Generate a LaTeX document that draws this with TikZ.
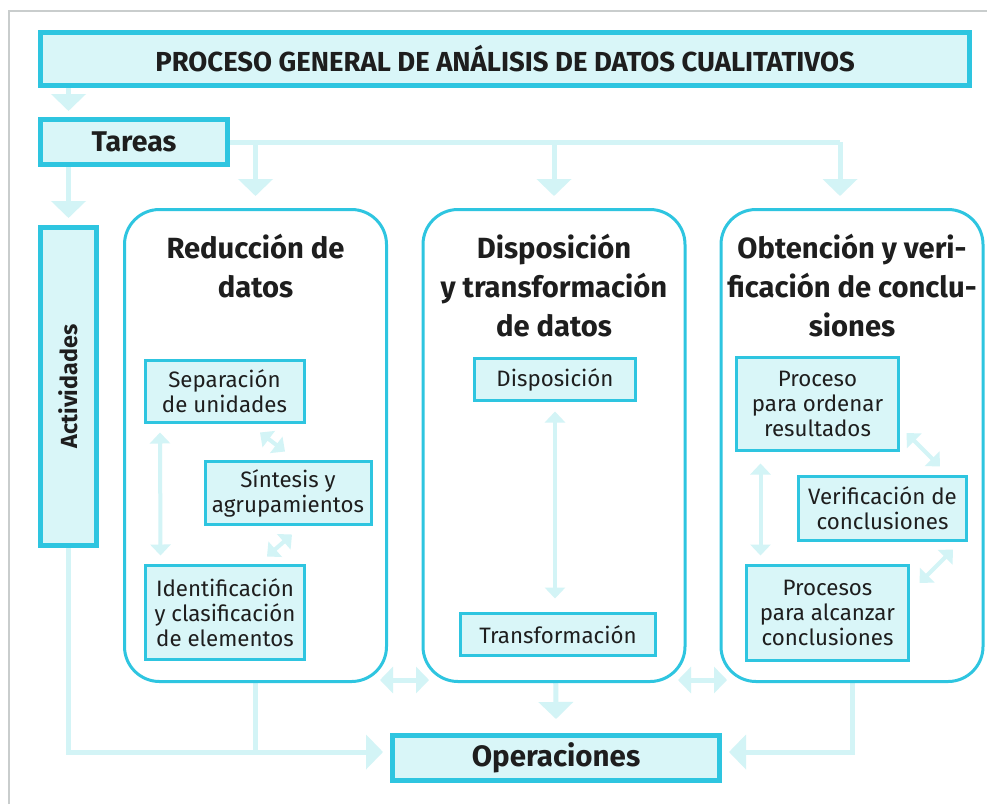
\documentclass[tikz,border=0pt]{standalone}
\usepackage{fontspec}
\setmainfont{Fira Sans}
\usetikzlibrary{arrows.meta}
\definecolor{cyanB}{HTML}{2EC5E0}
\definecolor{cyanL}{HTML}{D9F6F8}
\definecolor{cyanC}{HTML}{D3F4F6}
\definecolor{frameG}{HTML}{C9CDCD}
\definecolor{txt}{HTML}{1E1E1E}
\tikzset{
  box/.style={draw=cyanB, fill=cyanL, line width=5pt, inner sep=0pt, align=center, text=txt, font=\bfseries\fontsize{28.5}{30}\selectfont},
  bigbox/.style={draw=cyanB, fill=white, line width=3pt, rounded corners=35pt, inner sep=0pt, minimum width=262pt, minimum height=472pt},
  head/.style={inner sep=0pt, align=center, anchor=north, text=txt, font=\bfseries\fontsize{29.2}{39}\selectfont},
  sub/.style={draw=cyanB, fill=cyanL, line width=3pt, inner sep=0pt, align=center, text=txt, font=\fontsize{22.3}{25}\selectfont},
  conn/.style={draw=cyanC, line width=5pt, -{Triangle[length=17pt,width=34pt]}},
  plainc/.style={draw=cyanC, line width=5pt},
  dblbig/.style={draw=cyanC, line width=5pt, {Triangle[length=13pt,width=26pt]}-{Triangle[length=13pt,width=26pt]}},
  dbl/.style={draw=cyanC, line width=4pt, {Triangle[length=11pt,width=20pt]}-{Triangle[length=11pt,width=20pt]}},
}
\begin{document}
\begin{tikzpicture}[x=1pt,y=-1pt]
\fill[white] (0,0) rectangle (987,804);
\useasboundingbox (0,0) rectangle (987,804);
\draw[frameG, line width=2.5pt] (9,804) -- (9,11) -- (987,11);

% main nodes (positions)
\node[box, minimum width=929pt, minimum height=53pt, font=\bfseries\fontsize{27.5}{30}\selectfont] (title) at (505,59) {PROCESO GENERAL DE ANÁLISIS DE DATOS CUALITATIVOS};
\node[box, minimum width=187pt, minimum height=45pt] (tareas) at (134,142) {Tareas};
\node[box, minimum width=56pt, minimum height=318pt, font=\bfseries\fontsize{23.3}{27}\selectfont] (act) at (68.5,386.5) {\rotatebox{90}{Actividades}};
\node[box, minimum width=327pt, minimum height=45pt, font=\bfseries\fontsize{29.5}{30}\selectfont] (ops) at (556,758) {Operaciones};

\coordinate (j3) at (840,142);
\coordinate (lb) at (68.5,752);
\coordinate (rb) at (852,752);

% connectors (behind boxes)
\path (255.5,445.5) coordinate (c1) (554,445.5) coordinate (c2) (852,445.5) coordinate (c3);
\draw[conn] (title.south -| act.center) -- ([yshift=6pt]tareas.north -| act.center);
\draw[conn] (tareas.south -| act.center) -- ([yshift=7pt]act.north);
\draw[plainc] (tareas.east) -- (j3);
\draw[conn] (tareas.east -| c1) -- (255.5,196);
\draw[conn] (tareas.east -| c2) -- (554,196);
\draw[conn] (j3) -- (840,196);
\draw[conn, shorten >=7pt] (act.south) -- (lb) -- (lb -| ops.west);
\draw[plainc] (c1) -- (c1 |- lb);
\draw[conn] (c2) -- ([yshift=14pt]ops.north);
\draw[conn, shorten >=7pt] (c3) -- (rb) -- (rb -| ops.east);
\draw[dblbig] (380,680) -- (429,680);
\draw[dblbig] (678,680) -- (727,680);

% big boxes
\node[bigbox] (b1) at (c1) {};
\node[bigbox] (b2) at (c2) {};
\node[bigbox] (b3) at (c3) {};

\node[head] (h1) at (255.5,234) {Reducción de\\datos};
\node[head] (h2) at (554,234) {Disposición\\y transformación\\de datos};
\node[head] (h3) at (852,234) {Obtención y veri-\\ficación de conclu-\\siones};

% box 1
\node[sub, minimum width=159pt, minimum height=62pt] (sep) at (224.5,391.5) {Separación\\de unidades};
\node[sub, minimum width=166pt, minimum height=63pt] (sin) at (288,493) {Síntesis y\\agrupamientos};
\node[sub, minimum width=159pt, minimum height=94pt] (ide) at (225,612.5) {Identificación\\y clasificación\\de elementos};
\draw[dbl] ([shift={(16.5,8.5)}]sep.south west) -- ([shift={(16.5,-8.5)}]ide.north west);
\draw[dbl] ([shift={(-45.5,8.5)}]sep.south east) -- ([shift={(-3,-8.5)}]sin.north);
\draw[dbl] ([shift={(4,8.5)}]sin.south) -- ([shift={(42,-7.5)}]ide.north);

% box 2
\node[sub, minimum width=161pt, minimum height=42pt] (disp) at (555,379.5) {Disposición};
\node[sub, minimum width=195pt, minimum height=42pt] (trans) at (558,634.5) {Transformación};
\draw[dbl] ([yshift=-9.5pt]disp.south) -- ([shift={(-3,-13.5)}]trans.north);

% box 3
\node[sub, minimum width=162pt, minimum height=93pt] (proc) at (817.5,404) {Proceso\\para ordenar\\resultados};
\node[sub, minimum width=168pt, minimum height=64pt] (ver) at (882.5,508.5) {Verificación de\\conclusiones};
\node[sub, minimum width=162pt, minimum height=95pt] (pros) at (827.5,613) {Procesos\\para alcanzar\\conclusiones};
\draw[dbl] ([shift={(25.5,11.5)}]proc.south west) -- ([shift={(15.5,-8.5)}]pros.north west);
\draw[dbl] ([shift={(6.5,29)}]proc.east) -- ([shift={(57.5,-8.5)}]ver.north);
\draw[dbl] ([shift={(70.5,7.5)}]ver.south) -- ([shift={(9.5,-30)}]pros.east);
\end{tikzpicture}
\end{document}
